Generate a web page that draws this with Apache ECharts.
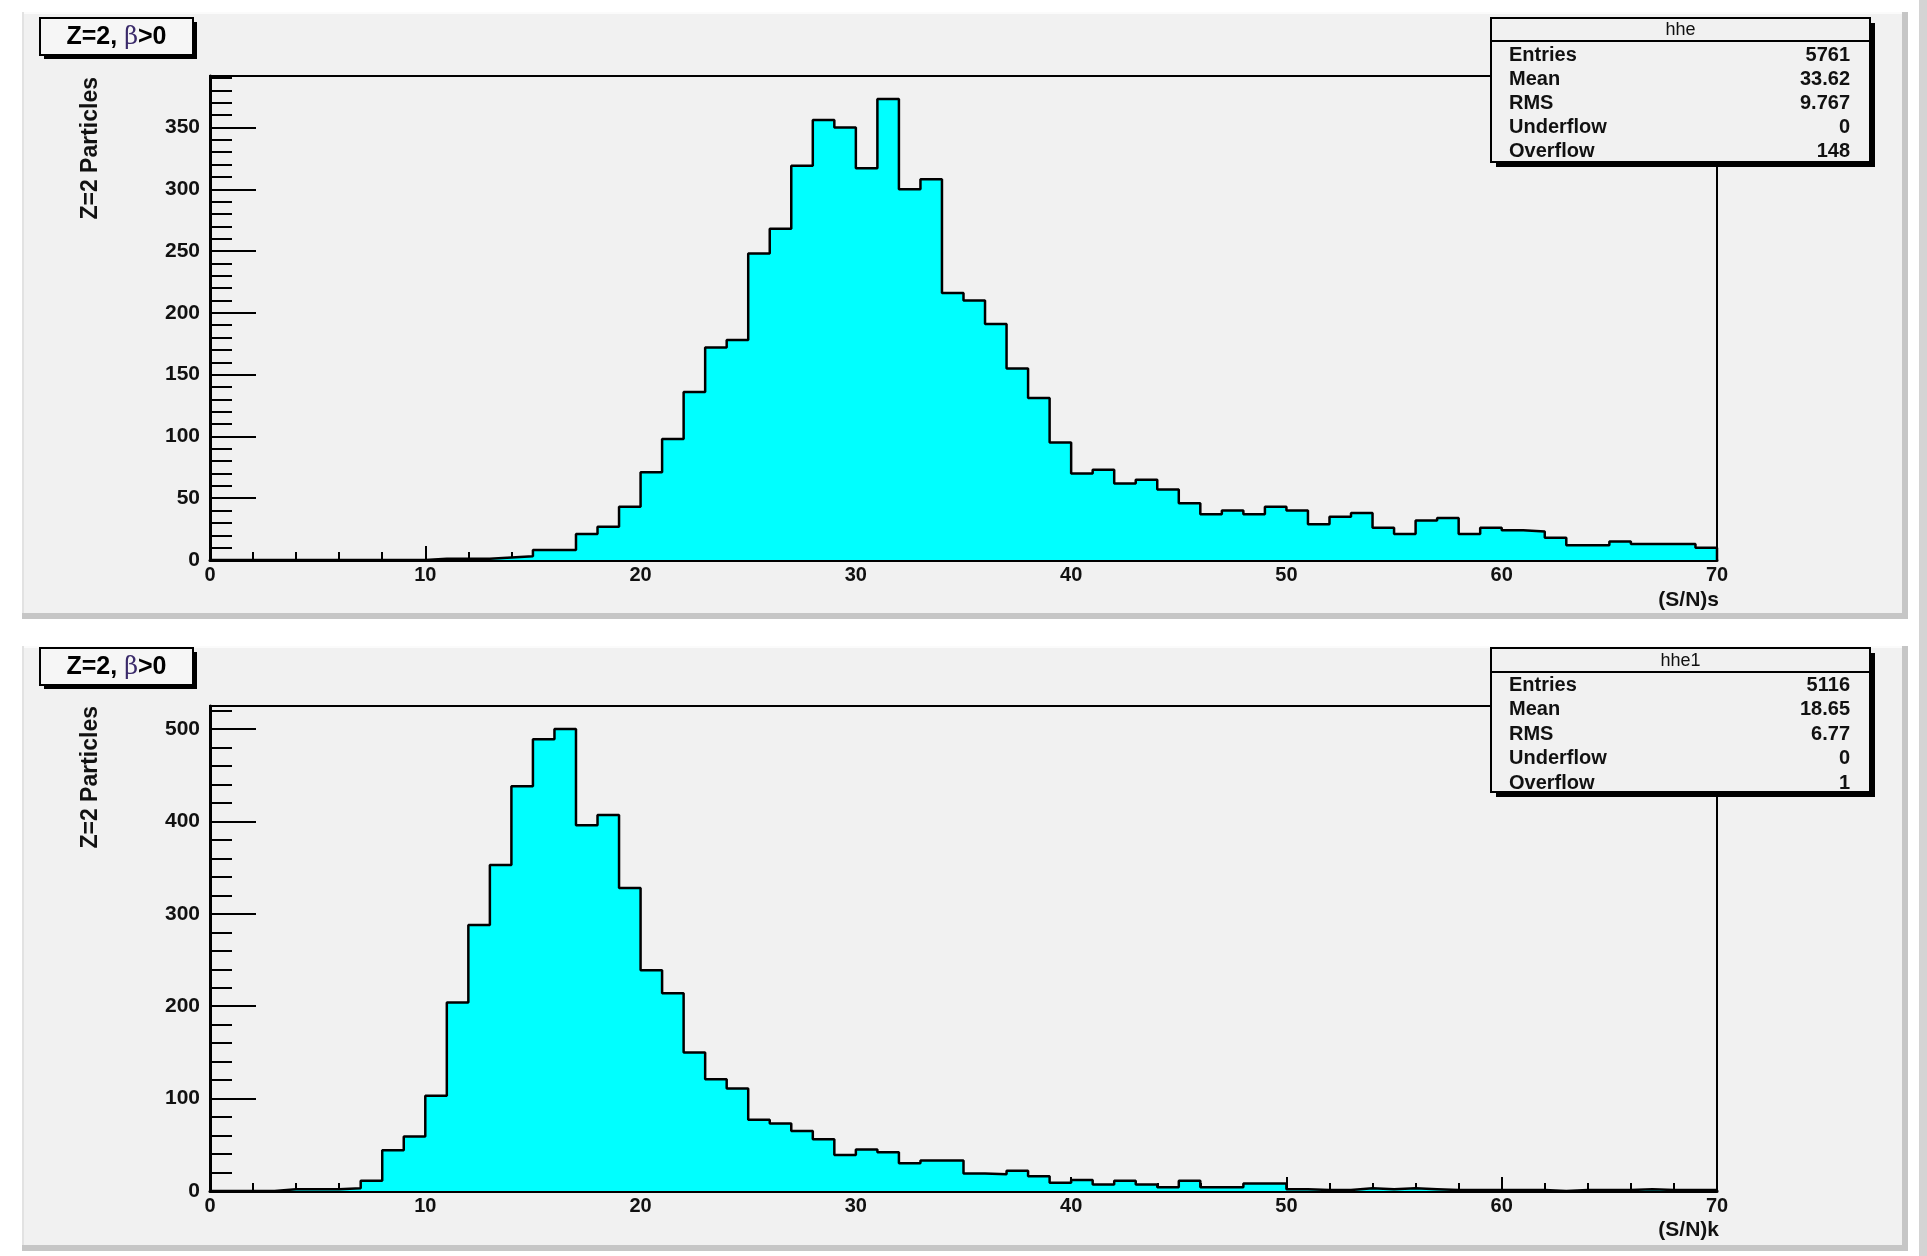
<!DOCTYPE html>
<html>
<head>
<meta charset="utf-8">
<script src="https://cdn.jsdelivr.net/npm/echarts@6/dist/echarts.min.js"></script>
<style>
  html, body { margin: 0; padding: 0; background: #ffffff; }
  #chart { width: 1927px; height: 1256px; }
</style>
</head>
<body>
<div id="chart"></div>
<script>
// Z=2 particle signal-to-noise spectra, 1-unit bins covering [0, 70)
const binStart = 0;
const binWidth = 1;

// hhe : (S/N)s, counts per bin
const hheCounts = [
  0, 0, 0, 0, 0, 0, 0, 0, 0, 0,
  1, 1, 1, 2, 3, 8, 8, 21, 27, 43,
  71, 98, 136, 172, 178, 248, 268, 319, 356, 350,
  317, 373, 300, 308, 216, 210, 191, 155, 131, 95,
  70, 73, 62, 65, 57, 46, 37, 40, 37, 43,
  40, 29, 35, 38, 26, 21, 32, 34, 21, 26,
  24, 23, 18, 12, 12, 15, 13, 13, 13, 10
];

// hhe1 : (S/N)k, counts per bin
const hhe1Counts = [
  0, 0, 0, 2, 2, 2, 3, 11, 44, 59,
  103, 204, 288, 353, 438, 489, 500, 396, 407, 328,
  239, 214, 150, 121, 111, 77, 73, 65, 56, 39,
  45, 42, 30, 33, 33, 19, 18, 22, 16, 9,
  12, 7, 11, 7, 4, 11, 4, 4, 8, 8,
  2, 1, 1, 3, 2, 3, 2, 1, 1, 1,
  1, 1, 0, 1, 1, 1, 2, 1, 1, 1
];

// axis tick values
const xTickValues = [0, 10, 20, 30, 40, 50, 60, 70];
const yTickValuesTop = [0, 50, 100, 150, 200, 250, 300, 350];
const yTickValuesBottom = [0, 100, 200, 300, 400, 500];

// statistics boxes
const statNames = ['Entries', 'Mean', 'RMS', 'Underflow', 'Overflow'];
const hheStats = ['5761', '33.62', '9.767', '0', '148'];
const hhe1Stats = ['5116', '18.65', '6.77', '0', '1'];

// texts
const panelTitle = ['Z=2, ', 'β', '>0'];
const yTitle = 'Z=2 Particles';
const xTitleTop = '(S/N)s';
const xTitleBottom = '(S/N)k';
const histNameTop = 'hhe';
const histNameBottom = 'hhe1';

const FONT = '"Liberation Sans", Arial, Helvetica, sans-serif';
const TEXT = '#111111';
const PAD = '#f1f1f1';

// bin edges -> step outline (each count drawn from its bin's low edge to the next edge)
function stepPoints(counts) {
  const pts = counts.map((c, i) => [binStart + i * binWidth, c]);
  pts.push([binStart + counts.length * binWidth, 0]);
  return pts;
}

function xAxisFor(gridIndex) {
  return {
    type: 'value', gridIndex: gridIndex,
    min: xTickValues[0], max: xTickValues[xTickValues.length - 1], interval: 10,
    axisLine: { show: true, onZero: false, lineStyle: { color: '#000', width: 3 } },
    axisTick: { show: true, inside: true, length: 14, lineStyle: { color: '#000', width: 2 } },
    minorTick: { show: true, splitNumber: 5, length: 8, lineStyle: { color: '#000', width: 2 } },
    axisLabel: { show: true, margin: 5, color: TEXT, fontSize: 20, fontWeight: 'bold', fontFamily: FONT },
    splitLine: { show: false }, minorSplitLine: { show: false }
  };
}

function yAxisFor(gridIndex, ticks, counts) {
  const step = ticks[1] - ticks[0];
  return {
    type: 'value', gridIndex: gridIndex,
    min: 0, max: Math.max.apply(null, counts) * 1.05, interval: step,
    axisLine: { show: true, onZero: false, lineStyle: { color: '#000', width: 3 } },
    axisTick: { show: true, inside: true, length: 46, customValues: ticks,
                lineStyle: { color: '#000', width: 2 } },
    minorTick: { show: true, splitNumber: 5, length: 22, lineStyle: { color: '#000', width: 2 } },
    axisLabel: { show: true, margin: 10, customValues: ticks,
                 color: TEXT, fontSize: 21, fontWeight: 'bold', fontFamily: FONT },
    splitLine: { show: false }, minorSplitLine: { show: false }
  };
}

function histSeries(index, counts) {
  return {
    type: 'line', xAxisIndex: index, yAxisIndex: index,
    data: stepPoints(counts), step: 'end', symbol: 'none', silent: true,
    lineStyle: { color: '#000', width: 2.5 },
    areaStyle: { color: '#00ffff', opacity: 1 },
    z: 3
  };
}

// decorations: pads, title boxes, stats boxes, axis titles
function pad(y, h) {
  return [
    { type: 'rect', shape: { x: 22, y: y, width: 1886, height: h + 6 }, style: { fill: '#c6c6c6' }, z: -20 },
    { type: 'rect', shape: { x: 22, y: y, width: 1880, height: h }, style: { fill: PAD }, z: -19 },
    { type: 'line', shape: { x1: 22, y1: y + 1, x2: 1902, y2: y + 1 }, style: { stroke: '#fbfbfb', lineWidth: 2 }, z: -18 },
    { type: 'line', shape: { x1: 23, y1: y, x2: 23, y2: y + h }, style: { stroke: '#e2e2e2', lineWidth: 2 }, z: -18 }
  ];
}

function titleBox(y) {
  const x = 40, w = 153, h = 37;
  return [
    { type: 'rect', shape: { x: x + 4, y: y + 4, width: w, height: h }, style: { fill: '#000' }, z: 100 },
    { type: 'rect', shape: { x: x, y: y, width: w, height: h },
      style: { fill: '#f6f6f6', stroke: '#000', lineWidth: 2 }, z: 101 },
    { type: 'text', z: 102,
      style: {
        text: '{b|' + panelTitle[0] + '}{g|' + panelTitle[1] + '}{b|' + panelTitle[2] + '}',
        x: x + w / 2, y: y + h / 2 + 1, align: 'center', verticalAlign: 'middle',
        rich: {
          b: { font: 'bold 25px ' + FONT, fill: '#000' },
          g: { font: '24px "DejaVu Serif", serif', fill: '#3a2a6a' }
        }
      } }
  ];
}

function statsBox(y, h, headerH, rowTop, rowStep, name, values) {
  const x = 1491, w = 379;
  const els = [
    { type: 'rect', shape: { x: x + 5, y: y + 5, width: w, height: h }, style: { fill: '#000' }, z: 100 },
    { type: 'rect', shape: { x: x, y: y, width: w, height: h },
      style: { fill: PAD, stroke: '#000', lineWidth: 2 }, z: 101 },
    { type: 'line', shape: { x1: x, y1: y + headerH, x2: x + w, y2: y + headerH },
      style: { stroke: '#000', lineWidth: 2 }, z: 102 },
    { type: 'text', z: 102,
      style: { text: name, x: x + w / 2, y: y + headerH / 2 + 1, align: 'center', verticalAlign: 'middle',
               font: '18px ' + FONT, fill: TEXT } }
  ];
  statNames.forEach((label, i) => {
    const ry = rowTop + i * rowStep;
    els.push({ type: 'text', z: 102,
      style: { text: label, x: x + 18, y: ry, align: 'left', verticalAlign: 'middle',
               font: 'bold 20px ' + FONT, fill: TEXT } });
    els.push({ type: 'text', z: 102,
      style: { text: values[i], x: x + w - 20, y: ry, align: 'right', verticalAlign: 'middle',
               font: 'bold 20px ' + FONT, fill: TEXT } });
  });
  return els;
}

function yAxisTitle(topY) {
  return { type: 'text', x: 91, y: topY, rotation: Math.PI / 2, z: 50,
    style: { text: yTitle, x: 0, y: 0, align: 'right', verticalAlign: 'middle',
             font: 'bold 23px ' + FONT, fill: TEXT } };
}

function xAxisTitle(text, y) {
  return { type: 'text', z: 50,
    style: { text: text, x: 1719, y: y, align: 'right', verticalAlign: 'middle',
             font: 'bold 21px ' + FONT, fill: TEXT } };
}

const graphicElements = [].concat(
  pad(12, 601),
  pad(646, 599),
  [{ type: 'rect', shape: { x: 1919, y: 0, width: 8, height: 1256 }, style: { fill: '#d4d4d4' }, z: -20 }],
  titleBox(18),
  titleBox(648),
  statsBox(18, 144, 23, 55, 24, histNameTop, hheStats),
  statsBox(648, 144, 24, 685, 24.5, histNameBottom, hhe1Stats),
  [yAxisTitle(77), yAxisTitle(706), xAxisTitle(xTitleTop, 600), xAxisTitle(xTitleBottom, 1230)]
);

const chart = echarts.init(document.getElementById('chart'), null, { renderer: 'canvas' });
chart.setOption({
  animation: false,
  backgroundColor: 'transparent',
  grid: [
    { left: 210, top: 76, width: 1507, height: 484, containLabel: false, outerBoundsMode: 'none',
      show: true, borderColor: '#000', borderWidth: 2, backgroundColor: 'transparent' },
    { left: 210, top: 706, width: 1507, height: 485, containLabel: false, outerBoundsMode: 'none',
      show: true, borderColor: '#000', borderWidth: 2, backgroundColor: 'transparent' }
  ],
  xAxis: [xAxisFor(0), xAxisFor(1)],
  yAxis: [yAxisFor(0, yTickValuesTop, hheCounts), yAxisFor(1, yTickValuesBottom, hhe1Counts)],
  series: [histSeries(0, hheCounts), histSeries(1, hhe1Counts)],
  graphic: { elements: graphicElements }
});
</script>
</body>
</html>
